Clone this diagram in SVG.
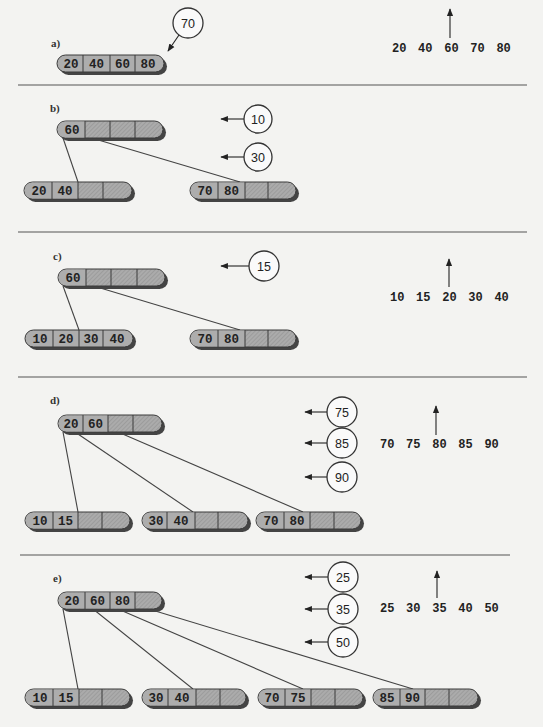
<svg xmlns="http://www.w3.org/2000/svg" width="543" height="727" viewBox="0 0 543 727">
<defs>
<pattern id="hatch" width="3" height="3" patternUnits="userSpaceOnUse" patternTransform="rotate(45)">
<rect width="3" height="3" fill="#ababab"/>
<line x1="0" y1="0" x2="0" y2="3" stroke="#8e8e8e" stroke-width="1"/>
</pattern>
<marker id="ah" viewBox="0 0 10 10" refX="9" refY="5" markerWidth="7" markerHeight="7" orient="auto-start-reverse">
<path d="M0,1 L10,5 L0,9 Z" fill="#222"/>
</marker>
</defs>
<style>
.bg{fill:#f3f3f1}
.sep{stroke:#555;stroke-width:1.2}
.sh{fill:#444}
.body{fill:url(#hatch);stroke:#3a3a3a;stroke-width:1}
.full{fill:#adadad}
.div{stroke:#3a3a3a;stroke-width:1}
.v{font-family:"Liberation Mono",monospace;font-weight:bold;font-size:12.5px;fill:#222;text-anchor:middle}
.lbl{font-family:"Liberation Serif",serif;font-weight:bold;font-size:11px;fill:#333}
.edge{stroke:#444;stroke-width:1.1;fill:none}
.circ{fill:#fafafa;stroke:#333;stroke-width:1.3}
.ct{font-family:"Liberation Sans",sans-serif;font-size:12.5px;fill:#222;text-anchor:middle}
.arr{stroke:#222;stroke-width:1.1;fill:none;marker-end:url(#ah)}
.seq{font-family:"Liberation Mono",monospace;font-weight:bold;font-size:12px;fill:#222;word-spacing:4.5px}
</style>
<rect class="bg" width="543" height="727"/>

<g id="separators">
<line class="sep" x1="18" y1="85" x2="527" y2="85"/>
<line class="sep" x1="18" y1="232" x2="527" y2="232"/>
<line class="sep" x1="18" y1="377" x2="527" y2="377"/>
<line class="sep" x1="20" y1="555" x2="510" y2="555"/>
</g>

<g id="labels">
<text class="lbl" x="51" y="47">a)</text>
<text class="lbl" x="50" y="112">b)</text>
<text class="lbl" x="53" y="260">c)</text>
<text class="lbl" x="50" y="404">d)</text>
<text class="lbl" x="53" y="582">e)</text>
</g>

<g id="connectors">
<line class="edge" x1="63" y1="138" x2="78" y2="182"/>
<line class="edge" x1="95" y1="139" x2="240" y2="182"/>
<line class="edge" x1="63" y1="286" x2="79" y2="330"/>
<line class="edge" x1="97" y1="287" x2="240" y2="330"/>
<line class="edge" x1="63" y1="432" x2="78" y2="512"/>
<line class="edge" x1="75" y1="432" x2="193" y2="512"/>
<line class="edge" x1="118" y1="432" x2="303" y2="512"/>
<line class="edge" x1="63" y1="609" x2="78" y2="689"/>
<line class="edge" x1="93" y1="609" x2="193" y2="689"/>
<line class="edge" x1="118" y1="609" x2="303" y2="689"/>
<line class="edge" x1="152" y1="610" x2="413" y2="689"/>
<line class="arr" x1="179" y1="35" x2="168" y2="51"/>
<line class="arr" x1="244" y1="119" x2="221" y2="119"/>
<line class="arr" x1="244" y1="157" x2="221" y2="157"/>
<line class="arr" x1="249" y1="266" x2="221" y2="266"/>
<line class="arr" x1="327" y1="412" x2="305" y2="412"/>
<line class="arr" x1="327" y1="443" x2="305" y2="443"/>
<line class="arr" x1="327" y1="477" x2="305" y2="477"/>
<line class="arr" x1="328" y1="577" x2="305" y2="577"/>
<line class="arr" x1="328" y1="609" x2="305" y2="609"/>
<line class="arr" x1="328" y1="642" x2="305" y2="642"/>
<line class="arr" x1="450" y1="38" x2="450" y2="9"/>
<line class="arr" x1="449" y1="287" x2="449" y2="259"/>
<line class="arr" x1="436" y1="435" x2="436" y2="406"/>
<line class="arr" x1="437" y1="598" x2="437" y2="571"/>
</g>

<g id="sequences">
<text class="seq" x="392" y="52">20 40 60 70 80</text>
<text class="seq" x="390" y="301">10 15 20 30 40</text>
<text class="seq" x="380" y="448">70 75 80 85 90</text>
<text class="seq" x="380" y="612">25 30 35 40 50</text>
</g>

<g id="keys">
<g id="k70"><circle class="circ" cx="188" cy="23" r="15"/><text class="ct" x="188" y="27.5">70</text></g>
<g id="k10"><circle class="circ" cx="258" cy="119" r="14"/><text class="ct" x="258" y="123.5">10</text></g>
<g id="k30"><circle class="circ" cx="258" cy="157" r="14"/><text class="ct" x="258" y="161.5">30</text></g>
<g id="k15"><circle class="circ" cx="264" cy="266" r="15"/><text class="ct" x="264" y="270.5">15</text></g>
<g id="k75"><circle class="circ" cx="342" cy="412" r="15"/><text class="ct" x="342" y="416.5">75</text></g>
<g id="k85"><circle class="circ" cx="342" cy="443" r="15"/><text class="ct" x="342" y="447.5">85</text></g>
<g id="k90"><circle class="circ" cx="342" cy="477" r="15"/><text class="ct" x="342" y="481.5">90</text></g>
<g id="k25"><circle class="circ" cx="343" cy="577" r="15"/><text class="ct" x="343" y="581.5">25</text></g>
<g id="k35"><circle class="circ" cx="343" cy="609" r="15"/><text class="ct" x="343" y="613.5">35</text></g>
<g id="k50"><circle class="circ" cx="343" cy="642" r="15"/><text class="ct" x="343" y="646.5">50</text></g>
</g>

<!-- a) -->
<g id="a-root">
<rect class="sh" x="60" y="58" width="107" height="17" rx="8.5"/>
<rect class="body" x="57" y="55" width="107" height="17" rx="8.5" style="fill:#adadad"/>
<line class="div" x1="83" y1="55" x2="83" y2="72"/><line class="div" x1="110" y1="55" x2="110" y2="72"/><line class="div" x1="135" y1="55" x2="135" y2="72"/>
<text class="v" x="71" y="68">20</text><text class="v" x="96.5" y="68">40</text><text class="v" x="122.5" y="68">60</text><text class="v" x="148" y="68">80</text>
</g>

<!-- b) -->
<g id="b-root">
<rect class="sh" x="60" y="124" width="106" height="17" rx="8.5"/>
<rect class="body" x="57" y="121" width="106" height="17" rx="8.5"/>
<path class="full" d="M65.5,121.5 H85 V137.5 H65.5 A8,8 0 0 1 65.5,121.5 Z"/>
<line class="div" x1="85" y1="121" x2="85" y2="138"/><line class="div" x1="110" y1="121" x2="110" y2="138"/><line class="div" x1="135" y1="121" x2="135" y2="138"/>
<text class="v" x="72" y="134">60</text>
</g>
<g id="b-leaf1">
<rect class="sh" x="27" y="185" width="108" height="17" rx="8.5"/>
<rect class="body" x="24" y="182" width="108" height="17" rx="8.5"/>
<path class="full" d="M32.5,182.5 H78 V198.5 H32.5 A8,8 0 0 1 32.5,182.5 Z"/>
<line class="div" x1="52" y1="182" x2="52" y2="199"/><line class="div" x1="78" y1="182" x2="78" y2="199"/><line class="div" x1="103" y1="182" x2="103" y2="199"/>
<text class="v" x="39" y="195">20</text><text class="v" x="65" y="195">40</text>
</g>
<g id="b-leaf2">
<rect class="sh" x="193" y="185" width="106" height="17" rx="8.5"/>
<rect class="body" x="190" y="182" width="106" height="17" rx="8.5"/>
<path class="full" d="M198.5,182.5 H245 V198.5 H198.5 A8,8 0 0 1 198.5,182.5 Z"/>
<line class="div" x1="218" y1="182" x2="218" y2="199"/><line class="div" x1="245" y1="182" x2="245" y2="199"/><line class="div" x1="268" y1="182" x2="268" y2="199"/>
<text class="v" x="205" y="195">70</text><text class="v" x="231.5" y="195">80</text>
</g>

<!-- c) -->
<g id="c-root">
<rect class="sh" x="61" y="272" width="107" height="17" rx="8.5"/>
<rect class="body" x="58" y="269" width="107" height="17" rx="8.5"/>
<path class="full" d="M66.5,269.5 H86 V285.5 H66.5 A8,8 0 0 1 66.5,269.5 Z"/>
<line class="div" x1="86" y1="269" x2="86" y2="286"/><line class="div" x1="111" y1="269" x2="111" y2="286"/><line class="div" x1="137" y1="269" x2="137" y2="286"/>
<text class="v" x="73" y="282">60</text>
</g>
<g id="c-leaf1">
<rect class="sh" x="28" y="333" width="108" height="17" rx="8.5"/>
<rect class="body" x="25" y="330" width="108" height="17" rx="8.5" style="fill:#adadad"/>
<line class="div" x1="53" y1="330" x2="53" y2="347"/><line class="div" x1="79" y1="330" x2="79" y2="347"/><line class="div" x1="103" y1="330" x2="103" y2="347"/>
<text class="v" x="40" y="343">10</text><text class="v" x="66" y="343">20</text><text class="v" x="91" y="343">30</text><text class="v" x="117" y="343">40</text>
</g>
<g id="c-leaf2">
<rect class="sh" x="193" y="333" width="106" height="17" rx="8.5"/>
<rect class="body" x="190" y="330" width="106" height="17" rx="8.5"/>
<path class="full" d="M198.5,330.5 H245 V346.5 H198.5 A8,8 0 0 1 198.5,330.5 Z"/>
<line class="div" x1="218" y1="330" x2="218" y2="347"/><line class="div" x1="245" y1="330" x2="245" y2="347"/><line class="div" x1="268" y1="330" x2="268" y2="347"/>
<text class="v" x="205" y="343">70</text><text class="v" x="231.5" y="343">80</text>
</g>

<!-- d) -->
<g id="d-root">
<rect class="sh" x="61" y="418" width="104" height="17" rx="8.5"/>
<rect class="body" x="58" y="415" width="104" height="17" rx="8.5"/>
<path class="full" d="M66.5,415.5 H108 V431.5 H66.5 A8,8 0 0 1 66.5,415.5 Z"/>
<line class="div" x1="83" y1="415" x2="83" y2="432"/><line class="div" x1="108" y1="415" x2="108" y2="432"/><line class="div" x1="133" y1="415" x2="133" y2="432"/>
<text class="v" x="71" y="428">20</text><text class="v" x="95.5" y="428">60</text>
</g>
<g id="d-leaf1">
<rect class="sh" x="28" y="515" width="105" height="17" rx="8.5"/>
<rect class="body" x="25" y="512" width="105" height="17" rx="8.5"/>
<path class="full" d="M33.5,512.5 H78 V528.5 H33.5 A8,8 0 0 1 33.5,512.5 Z"/>
<line class="div" x1="53" y1="512" x2="53" y2="529"/><line class="div" x1="78" y1="512" x2="78" y2="529"/><line class="div" x1="102" y1="512" x2="102" y2="529"/>
<text class="v" x="40" y="525">10</text><text class="v" x="65.5" y="525">15</text>
</g>
<g id="d-leaf2">
<rect class="sh" x="145" y="515" width="106" height="17" rx="8.5"/>
<rect class="body" x="142" y="512" width="106" height="17" rx="8.5"/>
<path class="full" d="M150.5,512.5 H195 V528.5 H150.5 A8,8 0 0 1 150.5,512.5 Z"/>
<line class="div" x1="167" y1="512" x2="167" y2="529"/><line class="div" x1="195" y1="512" x2="195" y2="529"/><line class="div" x1="218" y1="512" x2="218" y2="529"/>
<text class="v" x="156" y="525">30</text><text class="v" x="181" y="525">40</text>
</g>
<g id="d-leaf3">
<rect class="sh" x="259" y="515" width="105" height="17" rx="8.5"/>
<rect class="body" x="256" y="512" width="105" height="17" rx="8.5"/>
<path class="full" d="M264.5,512.5 H310 V528.5 H264.5 A8,8 0 0 1 264.5,512.5 Z"/>
<line class="div" x1="284" y1="512" x2="284" y2="529"/><line class="div" x1="310" y1="512" x2="310" y2="529"/><line class="div" x1="334" y1="512" x2="334" y2="529"/>
<text class="v" x="271" y="525">70</text><text class="v" x="297" y="525">80</text>
</g>

<!-- e) -->
<g id="e-root">
<rect class="sh" x="61" y="595" width="104" height="17" rx="8.5"/>
<rect class="body" x="58" y="592" width="104" height="17" rx="8.5"/>
<path class="full" d="M66.5,592.5 H135 V608.5 H66.5 A8,8 0 0 1 66.5,592.5 Z"/>
<line class="div" x1="85" y1="592" x2="85" y2="609"/><line class="div" x1="110" y1="592" x2="110" y2="609"/><line class="div" x1="135" y1="592" x2="135" y2="609"/>
<text class="v" x="72" y="605">20</text><text class="v" x="97.5" y="605">60</text><text class="v" x="122.5" y="605">80</text>
</g>
<g id="e-leaf1">
<rect class="sh" x="28" y="692" width="105" height="17" rx="8.5"/>
<rect class="body" x="25" y="689" width="105" height="17" rx="8.5"/>
<path class="full" d="M33.5,689.5 H79 V705.5 H33.5 A8,8 0 0 1 33.5,689.5 Z"/>
<line class="div" x1="53" y1="689" x2="53" y2="706"/><line class="div" x1="79" y1="689" x2="79" y2="706"/><line class="div" x1="102" y1="689" x2="102" y2="706"/>
<text class="v" x="40" y="702">10</text><text class="v" x="66" y="702">15</text>
</g>
<g id="e-leaf2">
<rect class="sh" x="145" y="692" width="104" height="17" rx="8.5"/>
<rect class="body" x="142" y="689" width="104" height="17" rx="8.5"/>
<path class="full" d="M150.5,689.5 H196 V705.5 H150.5 A8,8 0 0 1 150.5,689.5 Z"/>
<line class="div" x1="168" y1="689" x2="168" y2="706"/><line class="div" x1="196" y1="689" x2="196" y2="706"/><line class="div" x1="220" y1="689" x2="220" y2="706"/>
<text class="v" x="156" y="702">30</text><text class="v" x="182" y="702">40</text>
</g>
<g id="e-leaf3">
<rect class="sh" x="261" y="692" width="105" height="17" rx="8.5"/>
<rect class="body" x="258" y="689" width="105" height="17" rx="8.5"/>
<path class="full" d="M266.5,689.5 H311 V705.5 H266.5 A8,8 0 0 1 266.5,689.5 Z"/>
<line class="div" x1="285" y1="689" x2="285" y2="706"/><line class="div" x1="311" y1="689" x2="311" y2="706"/><line class="div" x1="335" y1="689" x2="335" y2="706"/>
<text class="v" x="272" y="702">70</text><text class="v" x="298" y="702">75</text>
</g>
<g id="e-leaf4">
<rect class="sh" x="376" y="692" width="105" height="17" rx="8.5"/>
<rect class="body" x="373" y="689" width="105" height="17" rx="8.5"/>
<path class="full" d="M381.5,689.5 H425 V705.5 H381.5 A8,8 0 0 1 381.5,689.5 Z"/>
<line class="div" x1="400" y1="689" x2="400" y2="706"/><line class="div" x1="425" y1="689" x2="425" y2="706"/><line class="div" x1="449" y1="689" x2="449" y2="706"/>
<text class="v" x="387" y="702">85</text><text class="v" x="412.5" y="702">90</text>
</g>
</svg>
